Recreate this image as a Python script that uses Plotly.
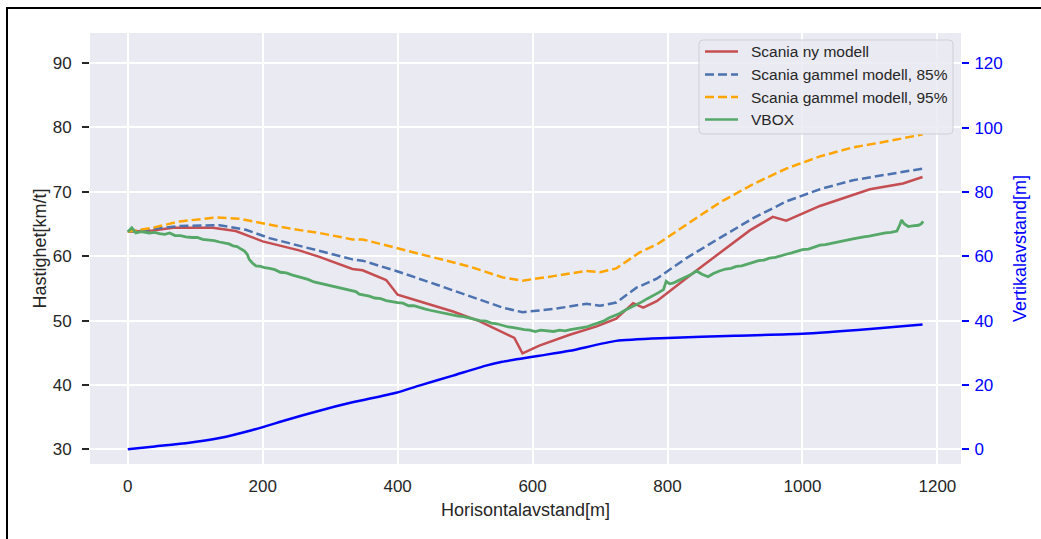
import plotly.graph_objects as go

# Scania ny modell
ny_x = [0, 37, 67, 126, 160, 200, 254, 284, 333, 348, 383, 400, 432, 482, 521, 573, 585,
        610, 655, 695, 724, 749, 764, 784, 838, 922, 956, 976, 1026, 1100, 1149, 1178]
ny_y = [63.8, 64.0, 64.4, 64.4, 63.9, 62.3, 60.9, 59.9, 58.0, 57.8, 56.3, 54.0, 53.0, 51.4, 49.9, 47.3, 44.9,
        46.1, 47.8, 49.1, 50.3, 52.7, 52.0, 53.0, 57.4, 64.0, 66.1, 65.5, 67.8, 70.4, 71.3, 72.3]

# Scania gammel modell, 85%
g85_x = [0, 77, 136, 175, 210, 259, 333, 348, 398, 457, 506, 556, 585, 631, 680, 700, 724,
         754, 784, 828, 877, 927, 976, 1026, 1075, 1124, 1178]
g85_y = [63.8, 64.7, 64.8, 64.1, 62.8, 61.5, 59.5, 59.3, 57.7, 55.6, 53.8, 52.0, 51.3, 51.8, 52.6, 52.3, 52.8,
         55.1, 56.5, 59.7, 62.8, 65.9, 68.5, 70.4, 71.8, 72.7, 73.6]

# Scania gammel modell, 95%
g95_x = [0, 37, 77, 131, 166, 200, 245, 284, 333, 348, 398, 457, 506, 556, 585, 631, 680, 700, 724,
         759, 784, 828, 877, 927, 976, 1026, 1075, 1124, 1178]
g95_y = [63.8, 64.4, 65.4, 66.0, 65.8, 65.1, 64.2, 63.6, 62.6, 62.6, 61.3, 59.7, 58.4, 56.7, 56.2, 56.9, 57.7, 57.5, 58.1,
         60.6, 61.8, 64.9, 68.3, 71.2, 73.6, 75.5, 76.9, 77.8, 78.9]

# VBOX measurement
vbox_x = [0, 6, 12, 20, 32, 40, 47, 55, 62, 70, 78, 86, 95, 103, 111, 120, 128, 136, 145, 150,
          156, 162, 168, 173, 177, 180, 185, 190, 197, 203, 210, 218, 226, 235, 243, 251, 259, 267,
          276, 284, 292, 300, 309, 317, 325, 333, 338, 343, 350, 358, 366, 375, 383, 392, 400, 408,
          416, 424, 432, 440, 448, 457, 465, 473, 482, 490, 498, 506, 514, 522, 531, 539, 547, 556,
          564, 572, 580, 588, 596, 604, 612, 620, 631, 640, 648, 656, 664, 672, 680, 688, 696, 705,
          713, 721, 729, 737, 745, 754, 762, 770, 778, 786, 794, 798, 803, 808, 816, 825, 834, 843,
          851, 860, 868, 877, 886, 894, 902, 910, 919, 927, 935, 943, 951, 960, 968, 976, 984, 992,
          1000, 1009, 1017, 1026, 1034, 1042, 1050, 1058, 1066, 1075, 1083, 1091, 1099, 1107, 1115,
          1123, 1131, 1140, 1144, 1147, 1151, 1157, 1163, 1168, 1172, 1176, 1179]
vbox_y = [63.8, 64.4, 63.6, 63.8, 63.6, 63.7, 63.5, 63.4, 63.6, 63.2, 63.2, 63.0, 62.9, 62.9, 62.6, 62.5, 62.4, 62.2, 62.0, 61.9,
          61.6, 61.5, 61.1, 60.8, 60.3, 59.5, 58.9, 58.5, 58.4, 58.2, 58.1, 57.9, 57.5, 57.4, 57.1, 56.9, 56.6, 56.4,
          56.0, 55.8, 55.6, 55.5, 55.2, 55.0, 54.9, 54.7, 54.5, 54.1, 54.0, 53.8, 53.5, 53.4, 53.1, 52.9, 52.8, 52.7,
          52.3, 52.3, 52.0, 51.8, 51.6, 51.4, 51.2, 51.1, 50.9, 50.7, 50.6, 50.4, 50.2, 50.0, 49.9, 49.6, 49.5, 49.2,
          49.0, 48.9, 48.7, 48.6, 48.5, 48.3, 48.5, 48.4, 48.3, 48.5, 48.4, 48.6, 48.7, 48.8, 49.0, 49.3, 49.6, 49.9,
          50.4, 50.7, 51.1, 51.6, 52.0, 52.5, 52.9, 53.4, 53.8, 54.3, 54.8, 56.1, 55.7, 55.8, 56.2, 56.6, 57.1, 57.7,
          57.2, 56.8, 57.3, 57.7, 58.0, 58.1, 58.4, 58.5, 58.8, 59.0, 59.3, 59.4, 59.7, 59.8, 60.1, 60.3, 60.5, 60.7,
          61.0, 61.1, 61.4, 61.7, 61.8, 62.0, 62.2, 62.3, 62.5, 62.7, 62.9, 63.0, 63.1, 63.3, 63.4,
          63.6, 63.7, 63.9, 64.8, 65.6, 65.0, 64.6, 64.7, 64.8, 64.8, 65.0, 65.4]

# Vertical profile (right axis)
vert_x = [0, 40, 86, 136, 185, 235, 284, 333, 398, 432, 482, 531, 555, 580, 610, 655, 724, 800, 900, 1000, 1100, 1178]
vert_y = [0, 0.9, 1.9, 3.5, 6.0, 9.1, 12.0, 14.6, 17.6, 19.8, 22.9, 26.0, 27.2, 28.1, 29.1, 30.6, 33.7, 34.6, 35.3, 35.9, 37.4, 38.8]

x_ticks = [0, 200, 400, 600, 800, 1000, 1200]
left_ticks = [30, 40, 50, 60, 70, 80, 90]
right_ticks = [0, 20, 40, 60, 80, 100, 120]

TEXT = "#262626"
FONT = "Liberation Sans, Arial, sans-serif"
DASH = "9px,4px"

series = [
    dict(x=ny_x, y=ny_y, name="Scania ny modell", color="#C44E52", dash="solid", width=2.5),
    dict(x=g85_x, y=g85_y, name="Scania gammel modell, 85%", color="#4C72B0", dash=DASH, width=2.5),
    dict(x=g95_x, y=g95_y, name="Scania gammel modell, 95%", color="#FFA500", dash=DASH, width=2.5),
    dict(x=vbox_x, y=vbox_y, name="VBOX", color="#55A868", dash="solid", width=2.8),
]

fig = go.Figure()
for s in series:
    fig.add_trace(go.Scatter(x=s["x"], y=s["y"], mode="lines", name=s["name"], showlegend=False,
                             line=dict(color=s["color"], width=s["width"], dash=s["dash"])))
fig.add_trace(go.Scatter(x=vert_x, y=vert_y, mode="lines", name="Vertikalavstand",
                         line=dict(color="#0000FF", width=2.5, shape="spline", smoothing=0.6),
                         yaxis="y2", showlegend=False))

# page geometry (pixels) -> paper coordinates
W, H = 1041, 539
L, R, T, B = 90, 80, 33, 75
pw, ph = W - L - R, H - T - B
def px(xp):
    return (xp - L) / pw
def py(yp):
    return (H - B - yp) / ph

# figure frame
fig.add_shape(type="rect", xref="paper", yref="paper",
              x0=px(7), x1=px(W + 20), y0=py(H + 20), y1=py(8),
              line=dict(color="black", width=2), layer="below")

# legend box with rounded corners
bx0, bx1, by0, by1, rr = 699, 953, 40, 134, 4
path = (f"M {px(bx0 + rr)},{py(by0)} L {px(bx1 - rr)},{py(by0)} "
        f"Q {px(bx1)},{py(by0)} {px(bx1)},{py(by0 + rr)} "
        f"L {px(bx1)},{py(by1 - rr)} Q {px(bx1)},{py(by1)} {px(bx1 - rr)},{py(by1)} "
        f"L {px(bx0 + rr)},{py(by1)} Q {px(bx0)},{py(by1)} {px(bx0)},{py(by1 - rr)} "
        f"L {px(bx0)},{py(by0 + rr)} Q {px(bx0)},{py(by0)} {px(bx0 + rr)},{py(by0)} Z")
fig.add_shape(type="path", xref="paper", yref="paper", path=path,
              fillcolor="rgba(234,234,242,0.85)", line=dict(color="#CFCFD6", width=1), layer="above")

row_y = [51.5, 74.5, 97, 119.5]
for s, ry in zip(series, row_y):
    fig.add_shape(type="line", xref="paper", yref="paper",
                  x0=px(705), x1=px(738), y0=py(ry), y1=py(ry),
                  line=dict(color=s["color"], width=2.5, dash=s["dash"]), layer="above")
    fig.add_annotation(xref="paper", yref="paper", x=px(749), y=py(ry), text=s["name"],
                       showarrow=False, xanchor="left", yanchor="middle",
                       font=dict(size=15.5, color=TEXT, family=FONT))

fig.update_layout(
    width=W, height=H,
    margin=dict(l=L, r=R, t=T, b=B),
    paper_bgcolor="white",
    plot_bgcolor="#EAEAF2",
    font=dict(family=FONT, color=TEXT, size=17),
    hovermode=False,
    showlegend=False,
    xaxis=dict(range=[-56, 1235], tickvals=x_ticks, showgrid=True, gridcolor="white", gridwidth=1.5,
               zeroline=False, showline=False, ticks="", automargin=False, ticklabelstandoff=10,
               tickfont=dict(size=17, color=TEXT),
               title=dict(text="Horisontalavstand[m]", font=dict(size=18, color=TEXT), standoff=8)),
    yaxis=dict(range=[27.72, 94.66], tickvals=left_ticks, showgrid=True, gridcolor="white", gridwidth=1.5,
               zeroline=False, showline=False, ticks="outside", ticklen=7, tickwidth=1.5, tickcolor=TEXT,
               automargin=False, ticklabelstandoff=7, tickfont=dict(size=17, color=TEXT),
               title=dict(text="Hastighet[km/t]", font=dict(size=18, color=TEXT), standoff=1)),
    yaxis2=dict(range=[-4.57, 129.4], tickvals=right_ticks, overlaying="y", side="right",
                showgrid=False, zeroline=False, showline=False, ticks="outside", ticklen=7, tickwidth=1.5,
                tickcolor="#0000FF", automargin=False, ticklabelstandoff=2,
                tickfont=dict(size=17, color="#0000FF"),
                title=dict(text="Vertikalavstand[m]", font=dict(size=18, color="#0000FF"), standoff=11)),
)

fig.write_html("out.html")
